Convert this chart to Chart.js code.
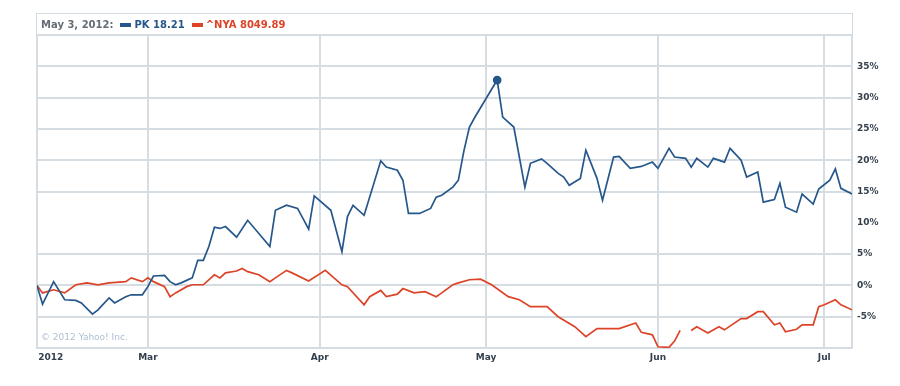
<!DOCTYPE html>
<html>
<head>
<meta charset="utf-8">
<title>PK vs ^NYA</title>
<script src="https://cdn.jsdelivr.net/npm/chart.js@4/dist/chart.umd.min.js"></script>
<style>
    body { margin: 0; background: #fff; }
    #wrap { position: relative; width: 900px; height: 386px; }
    #header {
        position: absolute; left: 36px; top: 13px; width: 815px; height: 21px;
        border: 1px solid #d3dce2; border-bottom: none;
        font: bold 10px "DejaVu Sans", sans-serif; line-height: 21px; white-space: nowrap;
    }
    #header span { margin-left: 4px; }
    #header .date { color: #666d75; }
    #header .key { display: inline-block; width: 11px; height: 4px; vertical-align: middle; margin-left: 7px; margin-right: 3px; }
    #copy {
        position: absolute; left: 41px; top: 332px;
        font: 9px "DejaVu Sans", sans-serif; color: #aec0d2;
    }
</style>
</head>
<body>
<div id="wrap">
    <canvas id="chart" width="900" height="386"></canvas>
    <div id="header"></div>
    <div id="copy">© 2012 Yahoo! Inc.</div>
</div>
<script>
// days counted from Jan 1 2012 (Mar 1 = 60)
const pkDays = [40, 41, 43, 45, 47, 48, 50, 51, 53, 54, 56, 57, 59, 60, 61, 63, 64, 65, 66, 68,
    69, 70, 71, 72, 73, 74, 76, 78, 82, 83, 85, 87, 89, 90, 93, 95, 96, 97, 99, 102,
    103, 105, 106, 107, 109, 111, 112, 113, 115, 116, 117, 118, 119, 123, 124, 125, 126, 128, 129, 131,
    132, 134, 135, 136, 138, 139, 141, 142, 144, 145, 147, 149, 151, 152, 154, 155, 157, 158, 159, 161,
    162, 164, 165, 167, 168, 170, 171, 173, 174, 175, 177, 178, 180, 181, 183, 184, 185, 187];
const pkValues = [0, -3.0, 0.6, -2.3, -2.4, -2.8, -4.6, -3.9, -2.0, -2.8, -1.8, -1.5, -1.5, -0.2, 1.5, 1.6, 0.6, 0.1, 0.4, 1.2,
    4.0, 4.0, 6.2, 9.3, 9.1, 9.4, 7.7, 10.4, 6.2, 12.0, 12.8, 12.3, 9.0, 14.3, 12.0, 5.4, 11.0, 12.8, 11.2, 19.9,
    18.9, 18.4, 16.8, 11.5, 11.5, 12.3, 14.1, 14.4, 15.7, 16.8, 21.5, 25.3, 26.9, 32.8, 26.9, 26.1, 25.3, 15.7, 19.5, 20.2,
    19.5, 17.9, 17.3, 16.0, 17.1, 21.6, 17.1, 13.6, 20.5, 20.6, 18.7, 19.0, 19.7, 18.7, 21.9, 20.5, 20.3, 18.9, 20.3, 18.9,
    20.3, 19.7, 21.9, 20.0, 17.3, 18.1, 13.3, 13.7, 16.3, 12.5, 11.7, 14.6, 13.0, 15.4, 16.8, 18.6, 15.5, 14.6];

const nyaDays = [40, 41, 43, 45, 47, 49, 51, 53, 56, 57, 59, 60, 61, 63, 64, 65, 67, 68, 70, 72,
    73, 74, 76, 77, 78, 80, 82, 83, 85, 86, 89, 92, 95, 96, 99, 100, 102, 103, 105, 106,
    108, 110, 112, 113, 115, 116, 118, 120, 122, 125, 127, 129, 132, 134, 137, 139, 141, 145, 148, 149,
    151, 152, 154, 155, 156, 157, 158, 159, 161, 163, 164, 167, 168, 170, 171, 173, 174, 175, 177, 178,
    180, 181, 182, 184, 185, 187];
const nyaValues = [0, -1.2, -0.7, -1.2, 0.1, 0.4, 0.1, 0.4, 0.6, 1.2, 0.6, 1.2, 0.6, -0.2, -1.8, -1.2, -0.2, 0.1, 0.1, 1.7,
    1.2, 2.0, 2.3, 2.7, 2.2, 1.7, 0.6, 1.2, 2.4, 2.0, 0.7, 2.4, 0.1, -0.2, -3.1, -1.8, -0.8, -1.8, -1.4, -0.5,
    -1.2, -1.0, -1.8, -1.2, 0.1, 0.4, 0.9, 1.0, 0.1, -1.8, -2.3, -3.4, -3.4, -5.0, -6.6, -8.2, -6.9, -6.9, -6.0, -7.5,
    -7.9, -9.8, -9.9, -8.9, -7.2, null, -7.2, -6.6, -7.6, -6.6, -7.1, -5.3, -5.3, -4.2, -4.2, -6.3, -6.0, -7.4, -7.0, -6.3,
    -6.3, -3.4, -3.1, -2.3, -3.1, -3.9];

const monthTicks = [60, 91, 121, 152, 182];
const monthNames = ['Mar', 'Apr', 'May', 'Jun', 'Jul'];
const yearLabel = '2012';
const pctTicks = [40, 35, 30, 25, 20, 15, 10, 5, 0, -5, -10];

const hoverDay = 123;
const hoverLabel = 'May 3, 2012:';
const pkLegend = 'PK 18.21';
const nyaLegend = '^NYA 8049.89';

const blue = '#26578a';
const red = '#dc4428';
const gridColor = '#d5dde3';

document.getElementById('header').innerHTML = `
    <span class="date">${hoverLabel}</span><span class="key" style="background:${blue}"></span><span style="color:${blue};margin-left:0">${pkLegend}</span><span class="key" style="background:${red}"></span><span style="color:${red};margin-left:0">${nyaLegend}</span>`;

const toPoints = (days, values) => days.map((d, i) => ({ x: d, y: values[i] }));

Chart.defaults.font.family = '"DejaVu Sans", sans-serif';
Chart.defaults.font.size = 9;
Chart.defaults.font.weight = 'bold';
Chart.defaults.color = '#34404e';

const yearTick = 42.5;

new Chart(document.getElementById('chart'), {
    type: 'line',
    data: {
        datasets: [{
            label: 'PK',
            data: toPoints(pkDays, pkValues),
            borderColor: blue,
            backgroundColor: blue,
            borderWidth: 1.7,
            pointRadius: ctx => (ctx.raw && ctx.raw.x === hoverDay ? 3.5 : 0),
            tension: 0
        }, {
            label: '^NYA',
            data: toPoints(nyaDays, nyaValues),
            borderColor: red,
            backgroundColor: red,
            borderWidth: 1.7,
            pointRadius: 0,
            tension: 0,
            spanGaps: false
        }]
    },
    options: {
        responsive: false,
        animation: false,
        events: [],
        layout: { padding: { top: 35, left: 37, right: 0, bottom: 0 } },
        plugins: {
            legend: { display: false },
            tooltip: { enabled: false }
        },
        scales: {
            x: {
                type: 'linear',
                min: 40,
                max: 187,
                afterBuildTicks: scale => {
                    scale.ticks = [40, yearTick, ...monthTicks, 187].map(v => ({ value: v }));
                },
                afterFit: scale => { scale.height = 38; },
                ticks: {
                    autoSkip: false,
                    maxRotation: 0,
                    padding: 4,
                    callback: v => {
                        if (v === yearTick) return yearLabel;
                        const i = monthTicks.indexOf(v);
                        return i >= 0 ? monthNames[i] : '';
                    }
                },
                grid: {
                    drawTicks: false,
                    lineWidth: 2,
                    color: ctx => (ctx.tick && ctx.tick.value === yearTick ? 'rgba(0,0,0,0)' : gridColor)
                },
                border: { display: true, color: gridColor, width: 2 }
            },
            y: {
                type: 'linear',
                position: 'right',
                min: -10,
                max: 40,
                afterBuildTicks: scale => {
                    scale.ticks = pctTicks.map(v => ({ value: v }));
                },
                afterFit: scale => { scale.width = 48; },
                ticks: {
                    padding: 5,
                    callback: v => (v === 40 || v === -10 ? '' : v + '%')
                },
                grid: {
                    drawTicks: false,
                    lineWidth: 2,
                    color: ctx => (ctx.index === pctTicks.indexOf(10) ? 'rgba(0,0,0,0)' : gridColor)
                },
                border: { display: true, color: gridColor, width: 2 }
            }
        }
    }
});
</script>
</body>
</html>
